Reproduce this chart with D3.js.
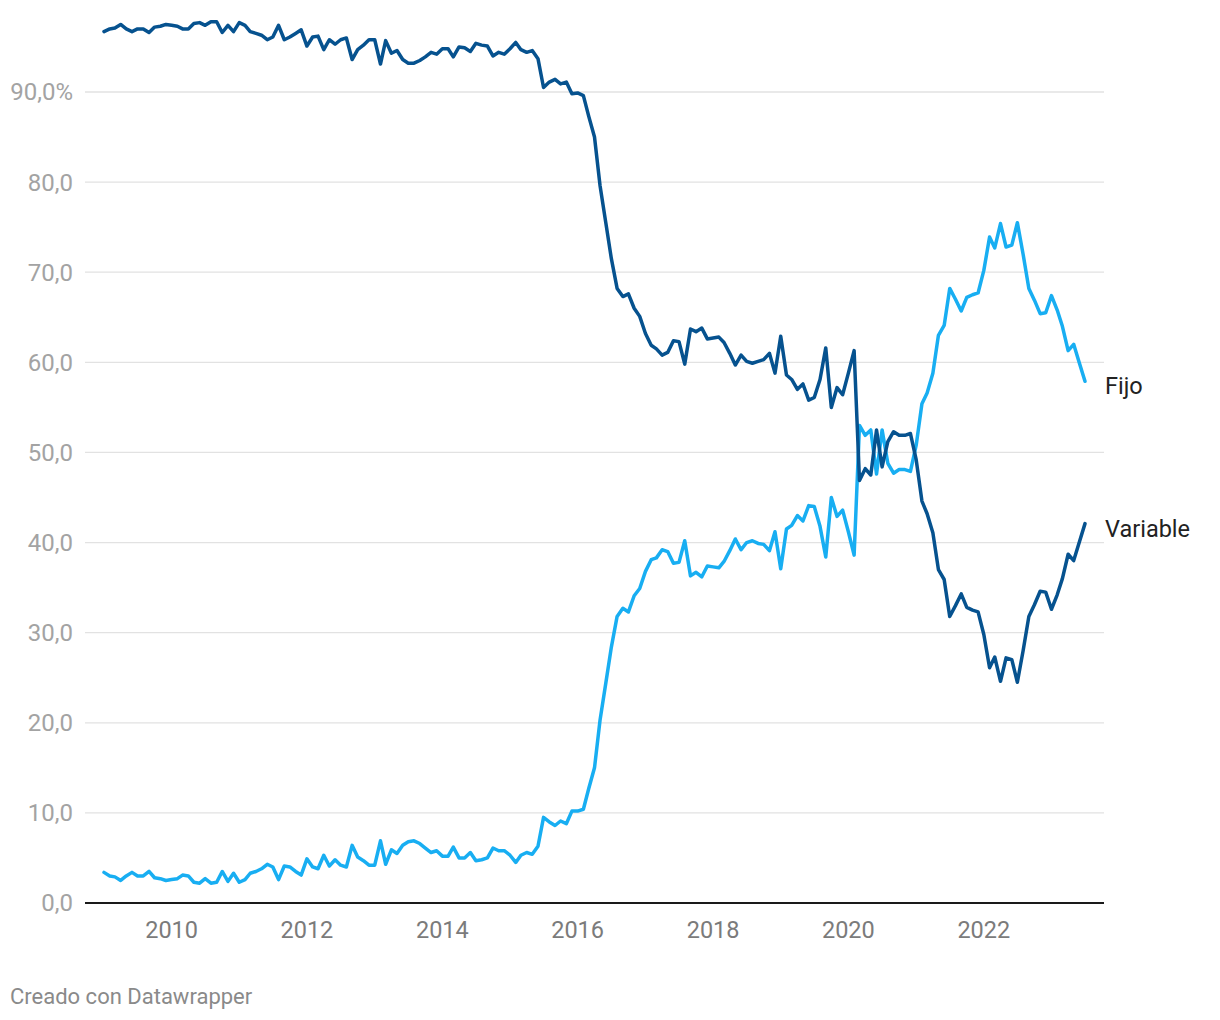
<!DOCTYPE html>
<html>
<head>
<meta charset="utf-8">
<script src="https://cdn.jsdelivr.net/npm/d3@7"></script>
<style>
  html, body { margin: 0; padding: 0; background: #ffffff; }
  svg { display: block; font-family: Roboto, "Noto Sans", sans-serif; }
</style>
</head>
<body>
<svg id="chart" width="1220" height="1020"></svg>
<script>
// ---- Data (monthly, Jan 2009 – Jul 2023) ----
const firstMonth = "2009-01";
const seriesNames = ["Fijo", "Variable"];
const fijo = [
  3.4, 3.0, 2.9, 2.5, 3.0, 3.4, 3.0, 3.0, 3.5, 2.8, 2.7, 2.5,
  2.6, 2.7, 3.1, 3.0, 2.3, 2.2, 2.7, 2.2, 2.3, 3.5, 2.4, 3.3,
  2.3, 2.6, 3.3, 3.5, 3.8, 4.3, 4.0, 2.6, 4.1, 4.0, 3.5, 3.1,
  4.9, 4.0, 3.8, 5.3, 4.1, 4.8, 4.2, 4.0, 6.4, 5.1, 4.7, 4.2,
  4.2, 6.9, 4.3, 5.9, 5.5, 6.4, 6.8, 6.9, 6.6, 6.1, 5.6, 5.8,
  5.2, 5.2, 6.2, 5.0, 5.0, 5.6, 4.7, 4.8, 5.0, 6.1, 5.8, 5.8,
  5.3, 4.5, 5.3, 5.6, 5.4, 6.3, 9.5, 9.0, 8.6, 9.1, 8.8, 10.2,
  10.2, 10.4, 12.7, 15.0, 20.3, 24.4, 28.4, 31.8, 32.7, 32.3, 34.1, 34.9,
  36.8, 38.1, 38.3, 39.2, 39.0, 37.7, 37.8, 40.2, 36.3, 36.7, 36.2, 37.4,
  37.3, 37.2, 37.9, 39.1, 40.4, 39.2, 40.0, 40.2, 39.9, 39.8, 39.1, 41.2,
  37.1, 41.5, 41.9, 43.0, 42.4, 44.1, 44.0, 41.8, 38.4, 45.0, 42.9, 43.6,
  41.2, 38.6, 53.0, 51.9, 52.5, 47.6, 52.5, 48.8, 47.7, 48.1, 48.1, 47.9,
  50.8, 55.4, 56.6, 58.8, 63.0, 64.1, 68.2, 67.0, 65.7, 67.2, 67.5, 67.7,
  70.2, 73.9, 72.7, 75.4, 72.8, 73.0, 75.5, 72.0, 68.2, 66.9, 65.4, 65.5,
  67.4, 65.8, 64.0, 61.3, 62.0, 59.9, 57.9
];
const variable = [
  96.7, 97.0, 97.1, 97.5, 97.0, 96.7, 97.0, 97.0, 96.6, 97.2, 97.3, 97.5,
  97.4, 97.3, 97.0, 97.0, 97.6, 97.7, 97.4, 97.8, 97.8, 96.6, 97.4, 96.7,
  97.7, 97.4, 96.7, 96.5, 96.3, 95.8, 96.1, 97.4, 95.8, 96.1, 96.5, 96.9,
  95.1, 96.1, 96.2, 94.7, 95.8, 95.3, 95.8, 96.0, 93.6, 94.7, 95.2, 95.8,
  95.8, 93.1, 95.7, 94.3, 94.6, 93.6, 93.2, 93.2, 93.5, 93.9, 94.4, 94.2,
  94.8, 94.8, 93.9, 95.0, 94.9, 94.5, 95.4, 95.2, 95.1, 94.0, 94.4, 94.2,
  94.8, 95.5, 94.7, 94.4, 94.6, 93.7, 90.5, 91.1, 91.4, 90.9, 91.1, 89.8,
  89.9, 89.6, 87.3, 85.0, 79.6, 75.5, 71.5, 68.2, 67.3, 67.6, 66.0, 65.1,
  63.2, 61.9, 61.5, 60.8, 61.1, 62.4, 62.3, 59.8, 63.7, 63.4, 63.8, 62.6,
  62.7, 62.8, 62.2, 61.0, 59.7, 60.8, 60.1, 59.9, 60.1, 60.3, 61.0, 58.8,
  62.9, 58.6, 58.1, 57.0, 57.6, 55.8, 56.1, 58.1, 61.6, 55.0, 57.2, 56.4,
  58.8, 61.3, 46.9, 48.2, 47.5, 52.5, 48.4, 51.2, 52.3, 51.9, 51.9, 52.1,
  49.2, 44.6, 43.2, 41.1, 37.0, 35.9, 31.8, 33.0, 34.3, 32.8, 32.5, 32.3,
  29.8, 26.1, 27.3, 24.6, 27.2, 27.0, 24.5, 28.0, 31.8, 33.1, 34.6, 34.5,
  32.6, 34.2, 36.0, 38.7, 38.0, 40.1, 42.1
];
const seriesColors = ["#18aef2", "#06528f"];
const yTicks = [0, 10, 20, 30, 40, 50, 60, 70, 80, 90];
const xTickYears = [2010, 2012, 2014, 2016, 2018, 2020, 2022];
const creditText = "Creado con Datawrapper";

// ---- Setup ----
const svg = d3.select("#chart");
const parseMonth = d3.timeParse("%Y-%m");
const start = parseMonth(firstMonth);
const dates = fijo.map((_, i) => d3.timeMonth.offset(start, i));

const plot = { left: 85, right: 1104, top: 92, bottom: 903 };

const x = d3.scaleTime()
  .domain([dates[0], dates[dates.length - 1]])
  .range([104, 1085]);

const y = d3.scaleLinear()
  .domain([0, 90])
  .range([plot.bottom, plot.top]);

const fmtNum = v => d3.format(".1f")(v).replace(".", ",");

// Gridlines + y labels
const yAxis = svg.append("g").attr("class", "y-axis");
yAxis.selectAll("line.grid")
  .data(yTicks.filter(t => t !== 0))
  .join("line")
  .attr("class", "grid")
  .attr("x1", plot.left).attr("x2", plot.right)
  .attr("y1", d => y(d)).attr("y2", d => y(d))
  .attr("stroke", "#e2e2e2").attr("stroke-width", 1.3);

yAxis.selectAll("text")
  .data(yTicks)
  .join("text")
  .attr("x", 73)
  .attr("y", d => y(d))
  .attr("dy", "0.35em")
  .attr("text-anchor", "end")
  .attr("fill", "#a3a3a3")
  .attr("font-size", 24)
  .text(d => fmtNum(d) + (d === 90 ? "%" : ""));

// x labels
const xAxis = svg.append("g").attr("class", "x-axis");
xAxis.selectAll("text")
  .data(xTickYears)
  .join("text")
  .attr("x", d => x(new Date(d, 0, 1)))
  .attr("y", 938)
  .attr("text-anchor", "middle")
  .attr("fill", "#7b7b7b")
  .attr("font-size", 23.5)
  .text(d => d);

// Lines
const seriesData = [fijo, variable];
const line = d3.line()
  .x((d, i) => x(dates[i]))
  .y(d => y(d));

svg.append("g").selectAll("path")
  .data(seriesData)
  .join("path")
  .attr("d", d => line(d))
  .attr("fill", "none")
  .attr("stroke", (d, i) => seriesColors[i])
  .attr("stroke-width", 3.5)
  .attr("stroke-linejoin", "round")
  .attr("stroke-linecap", "round");

// Baseline
svg.append("line")
  .attr("x1", plot.left).attr("x2", plot.right)
  .attr("y1", y(0)).attr("y2", y(0))
  .attr("stroke", "#1a1a1a").attr("stroke-width", 2);

// End labels
svg.append("g").selectAll("text")
  .data(seriesNames)
  .join("text")
  .attr("x", 1105)
  .attr("y", (d, i) => y(seriesData[i][seriesData[i].length - 1]) + 13)
  .attr("fill", "#222222")
  .attr("font-size", 23.5)
  .text(d => d);

// Credit
svg.append("text")
  .attr("x", 10)
  .attr("y", 1004)
  .attr("fill", "#8a8a8a")
  .attr("font-size", 22)
  .text(creditText);
</script>
</body>
</html>
